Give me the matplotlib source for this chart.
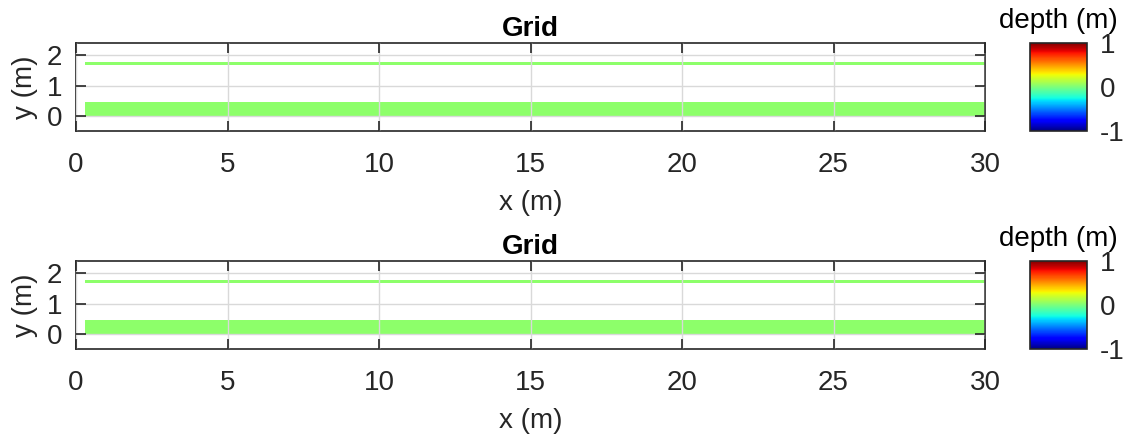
import numpy as np
import matplotlib
matplotlib.use("Agg")
import matplotlib.pyplot as plt
from matplotlib.cm import ScalarMappable
from matplotlib.colors import Normalize

plt.rcParams["font.family"] = ["Liberation Sans", "DejaVu Sans"]
plt.rcParams["axes.unicode_minus"] = False

# grid cells: x extent and y extents of the two wet strips
x_edges = [0.3, 30.0]
strip_bottom = [0.0, 1.69]
strip_top = [0.46, 1.78]
strip_depth = [0.04, 0.04]

x_ticks = [0, 5, 10, 15, 20, 25, 30]
y_ticks = [0, 1, 2]
cbar_ticks = [-1, 0, 1]

fs = 20
dark = "#262626"
cmap = plt.get_cmap("jet")
norm = Normalize(vmin=-1, vmax=1)

fig = plt.figure(figsize=(11.25, 4.36), dpi=100)

panels = [
    (0.0676, 0.6995, 0.808, 0.2018),
    (0.0676, 0.1995, 0.808, 0.2018),
]
for left, bottom, w, h in panels:
    ax = fig.add_axes([left, bottom, w, h])
    for y0, y1, d in zip(strip_bottom, strip_top, strip_depth):
        X, Y = np.meshgrid(x_edges, [y0, y1])
        ax.pcolormesh(X, Y, np.array([[d]]), cmap=cmap, norm=norm,
                      shading="flat", zorder=1)
    ax.set_xlim(0, 30)
    ax.set_ylim(-0.5, 2.4)
    ax.set_xticks(x_ticks)
    ax.set_yticks(y_ticks)
    ax.grid(True, color="#d9d9d9", linewidth=1, zorder=2)
    ax.set_axisbelow(False)
    ax.tick_params(direction="in", length=7, width=1.2, top=True, right=True,
                   labelsize=fs, colors=dark)
    ax.tick_params(axis="x", pad=15)
    ax.tick_params(axis="y", pad=10)
    for sp in ax.spines.values():
        sp.set_color(dark)
        sp.set_linewidth(1.2)
    ax.set_xlabel("x (m)", fontsize=fs, color=dark, labelpad=9)
    ax.set_ylabel("y (m)", fontsize=fs, color=dark, labelpad=6)
    ax.set_title("Grid", fontsize=fs, fontweight="bold", pad=5)

    cax = fig.add_axes([0.9156, bottom, 0.0507, h])
    cb = fig.colorbar(ScalarMappable(norm=norm, cmap=cmap), cax=cax)
    cb.set_ticks(cbar_ticks)
    cb.ax.tick_params(length=0, labelsize=fs, colors=dark, pad=9)
    cb.outline.set_edgecolor(dark)
    cb.outline.set_linewidth(1.2)
    cax.set_title("depth (m)", fontsize=fs, color="black", pad=11)

fig.savefig("out.png", dpi=100)
